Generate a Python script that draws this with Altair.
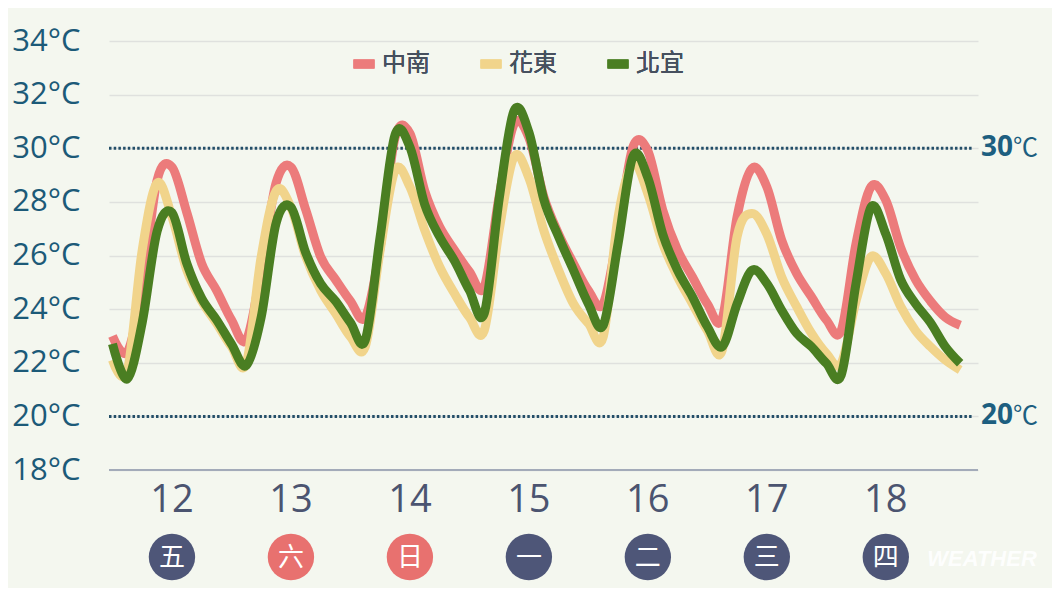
import altair as alt
import pandas as pd

# ---------------- data ----------------
hours = list(range(0, 172, 3))  # forecast time, hours after day-12 00:00 (3-hourly)

zhongnan = [23.0, 22.4, 24.8, 28.8, 29.3, 27.6, 25.7, 24.7, 23.6, 22.85,
            25.45, 28.7, 29.3, 27.7, 25.95, 25.1, 24.3, 23.7,
            26.3, 30.4, 30.55, 28.4, 27.07, 26.2, 25.4, 24.83,
            28.2, 30.9, 30.4, 28.2, 26.8, 25.7, 24.7, 24.2,
            26.9, 30.05, 29.9, 27.7, 26.2, 25.2, 24.2, 23.65,
            27.44, 29.25, 28.56, 26.57, 25.33, 24.46, 23.6, 23.2,
            26.45, 28.56, 28.06, 26.3, 25.1, 24.3, 23.7, 23.4]

huadong = [22.1, 21.7, 26.2, 28.7, 27.44, 25.45, 24.3, 23.47, 22.6, 21.98,
           25.95, 28.4, 27.8, 25.95, 24.7, 23.84, 22.97, 22.6,
           26.2, 29.18, 28.56, 26.94, 25.58, 24.58, 23.7, 23.2,
           26.94, 29.68, 28.9, 26.94, 25.45, 24.2, 23.47, 22.97,
           27.44, 29.43, 28.3, 26.45, 25.2, 24.2, 23.2, 22.47,
           26.7, 27.57, 26.8, 25.2, 24.1, 23.1, 22.35, 21.98,
           24.3, 25.95, 25.33, 24.1, 23.2, 22.6, 22.1, 21.73]

beiyi = [22.7, 21.4, 23.5, 26.9, 27.6, 25.7, 24.4, 23.6, 22.7, 21.9,
         23.7, 27.2, 27.8, 26.1, 24.95, 24.3, 23.5, 22.85,
         26.7, 30.5, 30.05, 27.9, 26.7, 25.8, 24.7, 23.84,
         28.1, 31.4, 30.6, 28.1, 26.7, 25.45, 24.2, 23.4,
         26.45, 29.7, 28.9, 26.8, 25.45, 24.46, 23.35, 22.6,
         24.2, 25.45, 24.96, 23.96, 23.1, 22.6, 21.98, 21.54,
         24.96, 27.8, 26.8, 25.1, 24.2, 23.5, 22.6, 21.98]

series_names = ["中南", "花東", "北宜"]
series_colors = ["#ec7b7b", "#f1d48b", "#4a7e22"]

day_hours = [12, 36, 60, 84, 108, 132, 156]
day_labels = ["12", "13", "14", "15", "16", "17", "18"]
weekdays = ["五", "六", "日", "一", "二", "三", "四"]
weekday_colors = ["#4e5678", "#e8716f", "#e8716f", "#4e5678", "#4e5678", "#4e5678", "#4e5678"]

y_ticks = [18, 20, 22, 24, 26, 28, 30, 32, 34]
ref_temps = [30, 20]
ref_labels = ["30", "20"]

# ---------------- tables ----------------
rows = []
for name, vals in zip(series_names, [zhongnan, huadong, beiyi]):
    for h, v in zip(hours, vals):
        rows.append({"h": h, "t": v, "s": name})
df = pd.DataFrame(rows)

days_df = pd.DataFrame({"h": day_hours, "day": day_labels, "wd": weekdays, "wc": weekday_colors})
ref_df = pd.DataFrame({"t": ref_temps, "lab": ref_labels})
base_df = pd.DataFrame({"t": [y_ticks[0]]})

W, H = 869, 429
xs = alt.Scale(domain=[-0.7, 174.6], nice=False, zero=False)
ys = alt.Scale(domain=[18, 34], nice=False, zero=False)

color = alt.Color(
    "s:N",
    scale=alt.Scale(domain=series_names, range=series_colors),
    legend=alt.Legend(
        orient="none", legendX=240, legendY=8, direction="horizontal", title=None,
        symbolType="stroke", symbolSize=441, symbolStrokeWidth=9,
        labelFontSize=24, labelFont="Noto Sans CJK TC", labelFontWeight="normal",
        labelColor="#46505f", labelOffset=3, columnPadding=32, padding=0,
    ),
)

yaxis = alt.Axis(
    values=y_ticks, labelExpr="datum.value + '°C'", labelFontSize=31,
    labelFont="Open Sans", labelColor="#1c5a78", labelPadding=29,
    ticks=False, domain=False, grid=True, gridColor="#dfe1de", gridWidth=1.5,
    title=None,
)


def Y(field="t:Q"):
    return alt.Y(field, scale=ys, axis=yaxis)


def X(field="h:Q"):
    return alt.X(field, scale=xs, axis=None)


grid_layer = alt.Chart(base_df).mark_rule(color="#a3abb9", strokeWidth=2).encode(
    y=Y(), x=alt.value(0), x2=alt.value(W),
)

ref_rules = alt.Chart(ref_df).mark_rule(
    color="#234e68", strokeWidth=3, strokeDash=[2.5, 2.2]
).encode(y=Y(), x=alt.value(0), x2=alt.value(864))

ref_num = alt.Chart(ref_df).mark_text(
    align="left", baseline="middle", fontSize=28, fontWeight="bold",
    font="Open Sans", color="#1d5f80",
).encode(y=Y(), x=alt.value(872), text="lab:N")

ref_unit = alt.Chart(ref_df).mark_text(
    align="left", baseline="middle", fontSize=25, font="Noto Sans CJK TC",
    color="#1d5f80",
).encode(y=Y(), x=alt.value(904), text=alt.value("℃"))

line_layers = []
for name in series_names:
    line_layers.append(
        alt.Chart(df).transform_filter(alt.datum.s == name).mark_line(
            strokeWidth=9, interpolate="cardinal", tension=0.0,
            strokeCap="butt", strokeJoin="round"
        ).encode(x=X(), y=Y(), color=color)
    )

day_text = alt.Chart(days_df).mark_text(
    baseline="alphabetic", align="center", fontSize=38, font="Open Sans", color="#4b5470"
).encode(x=X(), y=alt.value(471), text="day:N")

circles = alt.Chart(days_df).mark_circle(size=2150, opacity=1).encode(
    x=X(), y=alt.value(516),
    color=alt.Color("wc:N", scale=None, legend=None),
)

wd_text = alt.Chart(days_df).mark_text(
    baseline="middle", align="center", fontSize=26, font="Noto Sans CJK TC", color="white"
).encode(x=X(), y=alt.value(517), text="wd:N")

watermark = alt.Chart(base_df).mark_text(
    align="center", baseline="middle", fontSize=22, fontStyle="italic", fontWeight="bold",
    font="Liberation Sans", color="white", opacity=0.9,
).encode(x=alt.value(873), y=alt.value(518), text=alt.value("WEATHER"))

chart = alt.layer(
    grid_layer, ref_rules, *line_layers, ref_num, ref_unit,
    day_text, circles, wd_text, watermark,
).resolve_scale(color="independent").properties(
    width=W, height=H,
    padding={"left": 101, "top": 33, "right": 74, "bottom": 118},
    autosize=alt.AutoSizeParams(type="none"),
    background="#f4f7ef",
).configure_view(stroke=None)

chart.save("out.html", embed_options={"renderer": "svg", "actions": False})
